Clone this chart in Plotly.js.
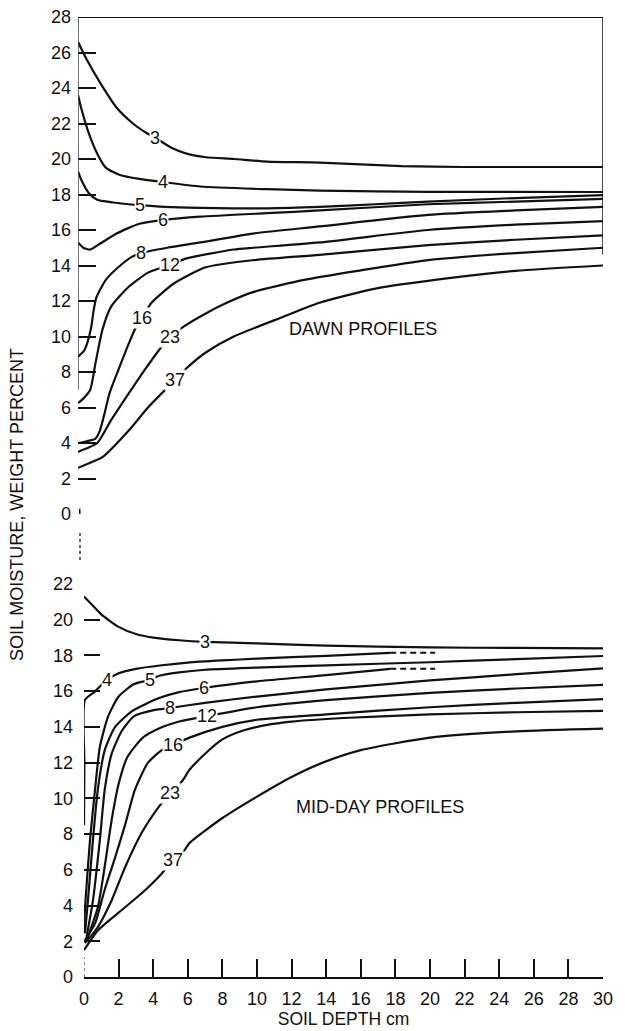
<!DOCTYPE html>
<html><head><meta charset="utf-8">
<script src="https://cdn.plot.ly/plotly-3.0.1.min.js"></script>
<style>html,body{margin:0;padding:0;background:#fff}#chart{width:625px;height:1031px}</style>
</head><body><div id="chart"></div>
<script>
// ---- curve names (days) ----
const curveNames = ['3','4','5','6','8','12','16','23','37'];

// ---- DAWN PROFILES (depth cm, moisture %) ----
const dawn3X  = [0, 0.5, 1.26, 2.2, 3.14, 3.94, 4.4, 5.4, 6.2, 7.3, 8.9, 10.8, 13.8, 18.5, 22, 30];
const dawn3Y  = [26.6, 25.6, 24.3, 22.9, 22.0, 21.45, 21.2, 20.6, 20.3, 20.1, 20.0, 19.85, 19.8, 19.6, 19.55, 19.55];
const dawn4X  = [0, 0.2, 0.6, 1.1, 1.6, 2.4, 3.5, 4.86, 7.0, 10.8, 13.8, 20, 30];
const dawn4Y  = [23.6, 22.8, 21.5, 20.3, 19.5, 19.1, 18.88, 18.7, 18.45, 18.3, 18.22, 18.15, 18.14];
const dawn5X  = [0, 0.2, 0.6, 1.1, 2, 3.54, 5, 7, 10.8, 13.8, 17, 20, 25, 30];
const dawn5Y  = [19.3, 18.8, 18.1, 17.7, 17.55, 17.4, 17.3, 17.25, 17.22, 17.3, 17.45, 17.6, 17.8, 17.97];
const dawn6X  = [0, 0.3, 0.7, 1.3, 2.2, 3.5, 4.86, 7, 10.8, 13.8, 20, 25, 30];
const dawn6Y  = [15.3, 15.0, 14.9, 15.25, 15.8, 16.35, 16.56, 16.75, 16.95, 17.1, 17.45, 17.6, 17.75];
const dawn8X  = [0, 0.15, 0.35, 0.55, 0.75, 0.9, 1.05, 1.3, 1.6, 2.3, 3.1, 3.6, 5.1, 7, 10, 13.8, 20, 25, 30];
const dawn8Y  = [8.85, 9.0, 9.2, 9.7, 10.5, 11.5, 12.2, 12.7, 13.2, 13.9, 14.5, 14.7, 15.0, 15.3, 15.8, 16.2, 16.85, 17.1, 17.3];
const dawn12X = [0, 0.3, 0.7, 1.0, 1.4, 1.9, 2.9, 4.0, 5.26, 6.2, 8.9, 10, 13.8, 20, 25, 30];
const dawn12Y = [6.25, 6.5, 7.0, 8.5, 10.4, 11.7, 12.8, 13.6, 14.03, 14.4, 14.9, 15.0, 15.3, 16.0, 16.3, 16.5];
const dawn16X = [0, 0.5, 1.0, 1.25, 1.5, 1.8, 2.3, 2.9, 3.3, 3.66, 4.2, 5.5, 7.3, 10, 13.8, 20, 25, 30];
const dawn16Y = [4.0, 4.1, 4.25, 4.7, 5.6, 6.8, 8.1, 9.6, 10.5, 11.04, 11.9, 13.0, 13.9, 14.3, 14.6, 15.15, 15.45, 15.7];
const dawn23X = [0, 0.5, 1.1, 1.9, 2.9, 3.8, 4.6, 5.26, 6.1, 7.3, 8.5, 10, 13, 16, 20, 25, 30];
const dawn23Y = [3.5, 3.7, 4.0, 5.3, 6.8, 8.1, 9.2, 9.97, 10.6, 11.3, 11.9, 12.5, 13.2, 13.7, 14.3, 14.7, 15.0];
const dawn37X = [0, 0.6, 1.4, 2.9, 4.0, 5.54, 6.3, 7.3, 8.9, 11.7, 13.8, 17, 21.3, 25, 30];
const dawn37Y = [2.6, 2.85, 3.2, 4.7, 6.0, 7.55, 8.3, 9.1, 10.0, 11.1, 11.9, 12.7, 13.3, 13.7, 14.0];

// ---- MID-DAY PROFILES ----
const mid3X  = [0, 0.5, 1, 2, 3, 4, 5.5, 7, 10, 14, 20, 25, 30];
const mid3Y  = [21.3, 20.8, 20.3, 19.6, 19.2, 19.0, 18.85, 18.76, 18.68, 18.55, 18.45, 18.42, 18.4];
const mid4X  = [0, 0.02, 0.05, 0.6, 1.33, 2, 3, 4.5, 6, 8, 10, 14, 17.7];
const mid4Y  = [8.5, 12.0, 15.5, 15.95, 16.63, 17.0, 17.25, 17.45, 17.6, 17.72, 17.82, 17.98, 18.15];
const mid4DashX = [17.7, 20.3];
const mid4DashY = [18.15, 18.15];
const mid5X  = [0, 0.06, 0.35, 0.64, 0.92, 1.4, 2.0, 2.9, 3.8, 4.3, 5.5, 7, 10, 14, 20, 25, 30];
const mid5Y  = [2.45, 3.9, 7.7, 10.5, 12.9, 14.6, 15.7, 16.4, 16.63, 16.85, 17.05, 17.2, 17.32, 17.45, 17.62, 17.8, 17.97];
const mid6X  = [0.06, 0.23, 0.52, 0.8, 1.2, 1.8, 2.8, 4.3, 5.5, 6.94, 10, 14, 17.7];
const mid6Y  = [2.45, 4.3, 7.7, 10.5, 12.7, 14.0, 14.9, 15.6, 15.95, 16.18, 16.55, 16.9, 17.25];
const mid6DashX = [17.7, 20.3];
const mid6DashY = [17.25, 17.25];
const mid8X  = [0.15, 0.52, 0.92, 1.2, 1.6, 2.2, 2.9, 4.1, 4.97, 7, 10, 14, 20, 25, 30];
const mid8Y  = [2.25, 4.3, 7.7, 10.5, 12.5, 13.8, 14.6, 14.95, 15.06, 15.35, 15.7, 16.1, 16.6, 16.95, 17.28];
const mid12X = [0.15, 0.8, 1.2, 1.6, 2.0, 2.5, 3.4, 4.3, 5.5, 7.1, 10, 14, 20, 25, 30];
const mid12Y = [2.05, 3.9, 6.2, 8.8, 10.8, 12.3, 13.4, 13.9, 14.3, 14.6, 15.1, 15.5, 15.9, 16.15, 16.35];
const mid16X = [0.06, 0.64, 1.2, 1.8, 2.4, 2.95, 3.7, 4.5, 5.14, 6.1, 8, 10, 14, 20, 25, 30];
const mid16Y = [2.07, 3.0, 4.9, 6.7, 8.6, 10.5, 12.0, 12.7, 12.99, 13.4, 14.0, 14.4, 14.7, 15.1, 15.35, 15.55];
const mid23X = [0.06, 0.8, 1.6, 2.4, 3.35, 4.3, 4.97, 5.7, 6.1, 7, 8, 9.2, 10.5, 12, 15, 20, 25, 30];
const mid23Y = [1.9, 2.8, 4.3, 6.2, 8.1, 9.5, 10.3, 11.0, 11.6, 12.5, 13.3, 13.8, 14.1, 14.3, 14.5, 14.7, 14.82, 14.9];
const mid37X = [0, 0.8, 2.0, 3.35, 4.5, 5.14, 5.8, 6.1, 8, 10, 12, 13.8, 16, 20, 25, 30];
const mid37Y = [1.5, 2.6, 3.6, 4.7, 5.8, 6.55, 7.1, 7.5, 8.9, 10.1, 11.2, 12.0, 12.7, 13.4, 13.75, 13.9];

// where along each curve its day label sits (depth cm)
const dawnLabelAt = [4.4, 4.86, 3.54, 4.86, 3.6, 5.26, 3.66, 5.26, 5.54];
const midLabelAt  = [7.0, 1.33, 3.8, 6.94, 4.97, 7.1, 5.14, 4.97, 5.14];

// axis ticks
const xLabels = [0,2,4,6,8,10,12,14,16,18,20,22,24,26,28,30];
const xTickMarks = [2,4,6,8,10,12,14,16,18,20,22,24,26,28];
const dawnYTicks = [0,2,4,6,8,10,12,14,16,18,20,22,24,26,28];
const midYTicks = [0,2,4,6,8,10,12,14,16,18,20,22];

const dawnX = [dawn3X, dawn4X, dawn5X, dawn6X, dawn8X, dawn12X, dawn16X, dawn23X, dawn37X];
const dawnY = [dawn3Y, dawn4Y, dawn5Y, dawn6Y, dawn8Y, dawn12Y, dawn16Y, dawn23Y, dawn37Y];
const midX = [mid3X, mid4X, mid5X, mid6X, mid8X, mid12X, mid16X, mid23X, mid37X];
const midY = [mid3Y, mid4Y, mid5Y, mid6Y, mid8Y, mid12Y, mid16Y, mid23Y, mid37Y];

function interp(xs, ys, x) {
  for (let i = 0; i < xs.length - 1; i++) {
    if (x >= xs[i] && x <= xs[i+1]) {
      const t = (x - xs[i]) / (xs[i+1] - xs[i]);
      return ys[i] + t * (ys[i+1] - ys[i]);
    }
  }
  return ys[ys.length-1];
}

const FONT = 'Liberation Sans, Arial, Helvetica, sans-serif';
const INK = '#111';
const lineStyle = {color: INK, width: 2.2, shape: 'spline', smoothing: 0.6};

const traces = [];
curveNames.forEach((n, i) => {
  traces.push({x: dawnX[i], y: dawnY[i], xaxis: 'x2', yaxis: 'y', mode: 'lines', line: lineStyle, name: 'Dawn ' + n, hoverinfo: 'skip'});
  traces.push({x: midX[i], y: midY[i], xaxis: 'x', yaxis: 'y2', mode: 'lines', line: lineStyle, name: 'Mid-day ' + n, hoverinfo: 'skip'});
});
traces.push({x: mid4DashX, y: mid4DashY, xaxis: 'x', yaxis: 'y2', mode: 'lines', line: {color: INK, width: 2, dash: '6px,4px'}, hoverinfo: 'skip'});
traces.push({x: mid6DashX, y: mid6DashY, xaxis: 'x', yaxis: 'y2', mode: 'lines', line: {color: INK, width: 2, dash: '6px,4px'}, hoverinfo: 'skip'});

const annotations = [];
curveNames.forEach((n, i) => {
  annotations.push({xref: 'x2', yref: 'y', x: dawnLabelAt[i], y: interp(dawnX[i], dawnY[i], dawnLabelAt[i]),
    text: n, showarrow: false, bgcolor: '#fff', borderpad: 0, font: {family: FONT, size: 18, color: INK}});
  annotations.push({xref: 'x', yref: 'y2', x: midLabelAt[i], y: interp(midX[i], midY[i], midLabelAt[i]),
    text: n, showarrow: false, bgcolor: '#fff', borderpad: 0, font: {family: FONT, size: 18, color: INK}});
});
annotations.push({xref: 'x2', yref: 'y', x: 16.3, y: 10.4, text: 'DAWN PROFILES', showarrow: false,
  font: {family: FONT, size: 18, color: INK}});
annotations.push({xref: 'x', yref: 'y2', x: 17.1, y: 9.5, text: 'MID-DAY PROFILES', showarrow: false,
  font: {family: FONT, size: 18, color: INK}});
annotations.push({xref: 'paper', yref: 'paper', x: -0.116, y: 0.4917, text: 'SOIL MOISTURE, WEIGHT PERCENT',
  textangle: -90, showarrow: false, xanchor: 'center', yanchor: 'middle', font: {family: FONT, size: 18, color: INK}});

const shapes = [
  {type: 'line', xref: 'x2', yref: 'y', x0: 0, x1: 0, y0: 7, y1: 28, line: {color: '#444', width: 1.5}},
  {type: 'line', xref: 'x2', yref: 'y', x0: 0, x1: 30, y0: 28, y1: 28, line: {color: INK, width: 2}},
  {type: 'line', xref: 'x2', yref: 'y', x0: 30, x1: 30, y0: 14.6, y1: 28, line: {color: INK, width: 1.5}},
  {type: 'line', xref: 'x2', yref: 'y', x0: 0.1, x1: 0.1, y0: -0.3, y1: 0.3, line: {color: INK, width: 1.5}},
  {type: 'line', xref: 'paper', yref: 'paper', x0: 2/525, x1: 2/525, y0: 444/960, y1: 414/960, line: {color: '#333', width: 1.5, dash: 'dot'}},
  {type: 'line', xref: 'x', yref: 'y2', x0: 0, x1: 0, y0: 0, y1: 1.1, line: {color: '#333', width: 1.2, dash: 'dot'}}
];

const tickFont = {family: FONT, size: 18, color: INK};
const layout = {
  width: 625, height: 1031,
  margin: {l: 78, r: 22, t: 17, b: 54},
  paper_bgcolor: '#fff', plot_bgcolor: 'rgba(0,0,0,0)',
  showlegend: false,
  font: {family: FONT, color: INK},
  xaxis: {domain: [6/525, 1], range: [0, 30], anchor: 'y2', tickmode: 'array', tickvals: xLabels, ticktext: xLabels.map(String),
    ticks: '', showline: true, linewidth: 2, linecolor: INK,
    minor: {tickmode: 'array', tickvals: xTickMarks, ticks: 'inside', ticklen: 18, tickwidth: 2, tickcolor: INK, showgrid: false},
    showgrid: false, zeroline: false, tickfont: tickFont, ticklabelstandoff: 4,
    title: {text: 'SOIL DEPTH cm', font: {family: FONT, size: 17.5, color: INK}, standoff: 0}},
  xaxis2: {domain: [0, 1], range: [0, 30], anchor: 'y', visible: false},
  yaxis: {domain: [463/960, 1], range: [0, 28], anchor: 'x2', tickvals: dawnYTicks, ticktext: dawnYTicks.map(String),
    ticks: 'inside', ticklen: 18, tickwidth: 2, tickcolor: INK, showline: false, showgrid: false, zeroline: false,
    tickfont: tickFont, ticklabelstandoff: 6},
  yaxis2: {domain: [0, 393/960], range: [0, 22], anchor: 'x', tickvals: midYTicks, ticktext: midYTicks.map(String),
    ticks: 'inside', ticklen: 16, tickwidth: 2, tickcolor: INK, showline: false, showgrid: false, zeroline: false,
    tickfont: tickFont, ticklabelstandoff: 10},
  annotations: annotations,
  shapes: shapes
};

Plotly.newPlot('chart', traces, layout, {staticPlot: true, displayModeBar: false});
</script>
</body></html>
